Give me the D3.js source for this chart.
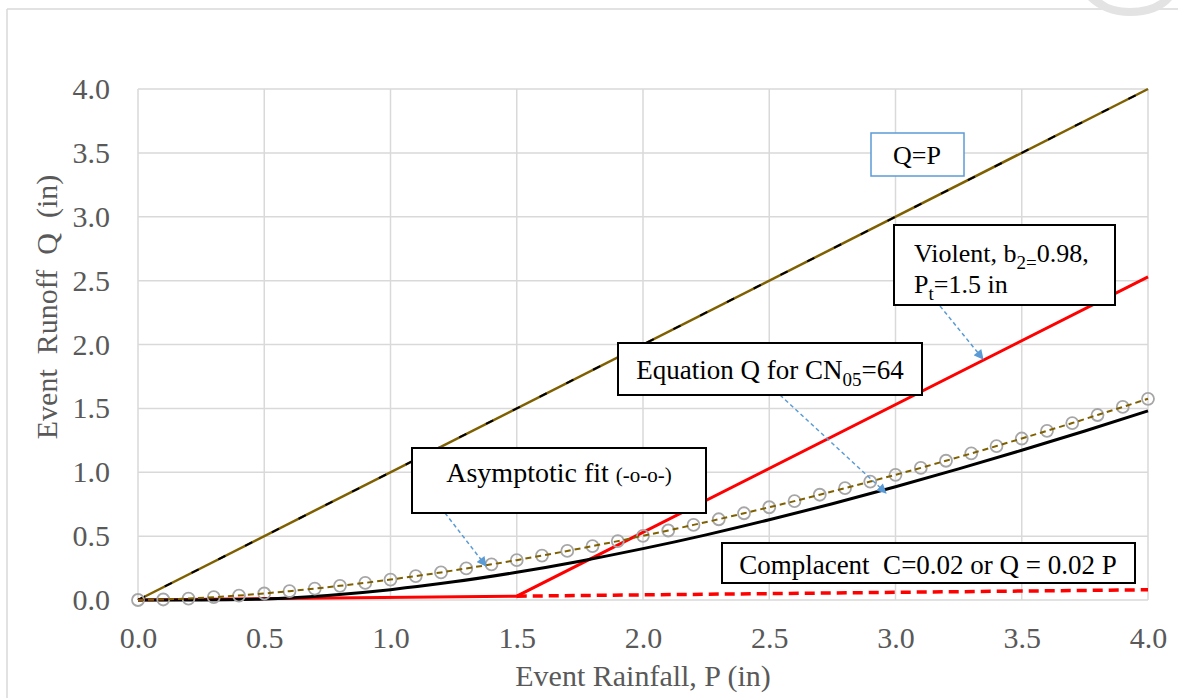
<!DOCTYPE html>
<html>
<head>
  <meta charset="utf-8">
  <script src="https://cdn.jsdelivr.net/npm/d3@7/dist/d3.min.js"></script>
  <style>
    body { margin: 0; background: #fff; }
    text { font-family: "Liberation Serif", "Times New Roman", serif; }
  </style>
</head>
<body>
  <svg width="1178" height="698" id="mainsvg"></svg>
  <script>
    // ---- data ----
    const ticks = [0, 0.5, 1.0, 1.5, 2.0, 2.5, 3.0, 3.5, 4.0];

    // Q = P reference line
    const lineP = [0, 4];
    const lineQ = [0, 4];

    // Equation Q for CN05 = 64 (black)
    const eqP = [0, 0.25, 0.5, 0.75, 1.0, 1.25, 1.5, 1.75, 2.0, 2.25, 2.5, 2.75, 3.0, 3.25, 3.5, 3.75, 4.0];
    const eqQ = [0, 0, 0.008, 0.036, 0.081, 0.142, 0.217, 0.304, 0.402, 0.510, 0.628, 0.753, 0.886, 1.026, 1.172, 1.323, 1.480];

    // Asymptotic fit (-o-o-)
    const fitP = [0, 0.1, 0.2, 0.3, 0.4, 0.5, 0.6, 0.7, 0.8, 0.9, 1.0, 1.1, 1.2, 1.3, 1.4, 1.5, 1.6, 1.7, 1.8, 1.9, 2.0,
                  2.1, 2.2, 2.3, 2.4, 2.5, 2.6, 2.7, 2.8, 2.9, 3.0, 3.1, 3.2, 3.3, 3.4, 3.5, 3.6, 3.7, 3.8, 3.9, 4.0];
    const fitQ = [0, 0.004, 0.011, 0.022, 0.035, 0.051, 0.069, 0.089, 0.111, 0.134, 0.160, 0.187, 0.216, 0.247, 0.279,
                  0.312, 0.348, 0.384, 0.422, 0.461, 0.502, 0.544, 0.588, 0.632, 0.679, 0.726, 0.774, 0.824, 0.875,
                  0.927, 0.980, 1.034, 1.090, 1.147, 1.205, 1.264, 1.324, 1.385, 1.448, 1.511, 1.575];

    // Violent (red solid) and Complacent (red dashed)
    const violentP = [0, 1.5, 4.0];
    const violentQ = [0, 0.03, 2.53];
    const compP = [1.5, 4.0];
    const compQ = [0.03, 0.08];

    const svg = d3.select('svg');
    const width = +svg.attr('width');
    const height = +svg.attr('height');
    const margin = {top: 89, right: 30, bottom: 98, left: 138};
    const innerWidth = width - margin.left - margin.right;
    const innerHeight = height - margin.top - margin.bottom;

    const x = d3.scaleLinear().domain([0, 4]).range([0, innerWidth]);
    const y = d3.scaleLinear().domain([0, 4]).range([innerHeight, 0]);

    // outer chart frame (left and top edges only are visible)
    svg.append('line').attr('x1', 7).attr('y1', 9).attr('x2', 7).attr('y2', height)
      .attr('stroke', '#d9d9d9').attr('stroke-width', 1.5);
    svg.append('line').attr('x1', 7).attr('y1', 9).attr('x2', width).attr('y2', 9)
      .attr('stroke', '#d9d9d9').attr('stroke-width', 1.5);
    // partial grey shape in the top-right corner
    svg.append('path').attr('d', 'M1088,0 Q1105,16 1130,16 Q1158,16 1172,0 L1160,0 Q1148,8 1130,8 Q1112,8 1102,0 Z')
      .attr('fill', '#e3e3e3');

    const g = svg.append('g').attr('transform', `translate(${margin.left},${margin.top})`);

    // grid
    g.append('g').selectAll('line').data(ticks).join('line')
      .attr('x1', d => x(d)).attr('x2', d => x(d)).attr('y1', 0).attr('y2', innerHeight)
      .attr('stroke', '#d9d9d9').attr('stroke-width', 1.5);
    g.append('g').selectAll('line').data(ticks).join('line')
      .attr('x1', 0).attr('x2', innerWidth).attr('y1', d => y(d)).attr('y2', d => y(d))
      .attr('stroke', '#d9d9d9').attr('stroke-width', 1.5);

    // axes (labels only)
    const xAxis = g.append('g').attr('transform', `translate(0,${innerHeight})`)
      .call(d3.axisBottom(x).tickValues(ticks).tickFormat(d3.format('.1f')).tickSize(0).tickPadding(27));
    const yAxis = g.append('g')
      .call(d3.axisLeft(y).tickValues(ticks).tickFormat(d3.format('.1f')).tickSize(0).tickPadding(28));
    [xAxis, yAxis].forEach(a => {
      a.select('.domain').remove();
      a.attr('font-size', null).attr('font-family', null);
      a.selectAll('text').attr('fill', '#595959').attr('font-size', 30);
    });

    svg.append('text').attr('x', 643).attr('y', 686)
      .attr('text-anchor', 'middle').attr('font-size', 30).attr('fill', '#595959')
      .text('Event Rainfall, P (in)');
    svg.append('text').attr('transform', 'translate(57,307) rotate(-90)')
      .attr('text-anchor', 'middle').attr('font-size', 30).attr('fill', '#595959')
      .attr('xml:space', 'preserve')
      .text('Event  Runoff  Q  (in)');

    const line = d3.line().x(d => x(d[0])).y(d => y(d[1]));
    const zip = (a, b) => a.map((v, i) => [v, b[i]]);

    // Q = P: gold line with black dashes
    g.append('path').datum(zip(lineP, lineQ)).attr('d', line)
      .attr('fill', 'none').attr('stroke', '#7f6000').attr('stroke-width', 2.5);
    g.append('path').datum(zip(lineP, lineQ)).attr('d', line)
      .attr('fill', 'none').attr('stroke', '#000').attr('stroke-width', 2)
      .attr('stroke-dasharray', '8 22');

    // violent red
    g.append('path').datum(zip(violentP, violentQ)).attr('d', line)
      .attr('fill', 'none').attr('stroke', '#ff0000').attr('stroke-width', 3);
    // complacent red dashed
    g.append('path').datum(zip(compP, compQ)).attr('d', line)
      .attr('fill', 'none').attr('stroke', '#ff0000').attr('stroke-width', 3.5)
      .attr('stroke-dasharray', '10 6');

    // equation curve black
    const smooth = d3.line().x(d => x(d[0])).y(d => y(d[1])).curve(d3.curveMonotoneX);
    g.append('path').datum(zip(eqP, eqQ)).attr('d', smooth)
      .attr('fill', 'none').attr('stroke', '#000').attr('stroke-width', 3);

    // asymptotic fit: markers, then dashed line on top
    const fit = zip(fitP, fitQ);
    g.append('g').selectAll('circle').data(fit).join('circle')
      .attr('cx', d => x(d[0])).attr('cy', d => y(d[1])).attr('r', 6)
      .attr('fill', 'none').attr('stroke', '#a6a6a6').attr('stroke-width', 1.8);
    g.append('path').datum(fit).attr('d', line)
      .attr('fill', 'none').attr('stroke', '#7f6000').attr('stroke-width', 2)
      .attr('stroke-dasharray', '6 4');

    // ---- annotations ----
    const defs = svg.append('defs');
    defs.append('marker').attr('id', 'arrow').attr('viewBox', '0 0 10 10')
      .attr('refX', 9).attr('refY', 5).attr('markerWidth', 7).attr('markerHeight', 6.5)
      .attr('markerUnits', 'strokeWidth').attr('orient', 'auto')
      .append('path').attr('d', 'M0,0 L10,5 L0,10 Z').attr('fill', '#5b9bd5');

    const arrows = [
      [445, 513, 486, 566],
      [780, 395, 886, 493],
      [940, 306, 983, 359]
    ];
    svg.append('g').selectAll('line').data(arrows).join('line')
      .attr('x1', d => d[0]).attr('y1', d => d[1]).attr('x2', d => d[2]).attr('y2', d => d[3])
      .attr('stroke', '#5b9bd5').attr('stroke-width', 1.5).attr('stroke-dasharray', '4 3')
      .attr('marker-end', 'url(#arrow)');

    function box(x0, y0, w, h, stroke, sw) {
      svg.append('rect').attr('x', x0).attr('y', y0).attr('width', w).attr('height', h)
        .attr('fill', '#fff').attr('stroke', stroke).attr('stroke-width', sw);
    }

    // Q=P
    box(871, 133, 93, 43, '#5b9bd5', 1.5);
    svg.append('text').attr('x', 917).attr('y', 164).attr('text-anchor', 'middle')
      .attr('font-size', 26).text('Q=P');

    // Violent
    box(894, 225, 221, 80, '#000', 2);
    const t1 = svg.append('text').attr('x', 914).attr('y', 262).attr('font-size', 26);
    t1.append('tspan').text('Violent, b');
    t1.append('tspan').attr('font-size', 19).attr('dy', 7).text('2=');
    t1.append('tspan').attr('dy', -7).text('0.98,');
    const t2 = svg.append('text').attr('x', 914).attr('y', 293).attr('font-size', 26);
    t2.append('tspan').text('P');
    t2.append('tspan').attr('font-size', 19).attr('dy', 7).text('t');
    t2.append('tspan').attr('dy', -7).text('=1.5 in');

    // Equation
    box(618, 343, 304, 52, '#000', 2);
    const t3 = svg.append('text').attr('x', 770).attr('y', 379).attr('text-anchor', 'middle').attr('font-size', 27);
    t3.append('tspan').text('Equation Q for CN');
    t3.append('tspan').attr('font-size', 19).attr('dy', 7).text('05');
    t3.append('tspan').attr('dy', -7).text('=64');

    // Asymptotic
    box(412, 448, 294, 65, '#000', 2);
    const t4 = svg.append('text').attr('x', 559).attr('y', 482).attr('text-anchor', 'middle').attr('font-size', 28);
    t4.append('tspan').text('Asymptotic fit ');
    t4.append('tspan').attr('font-size', 21).text('(-o-o-)');

    // Complacent
    box(722, 543, 413, 40, '#000', 2);
    svg.append('text').attr('x', 928).attr('y', 574).attr('text-anchor', 'middle')
      .attr('font-size', 27).attr('xml:space', 'preserve')
      .text('Complacent  C=0.02 or Q = 0.02 P');
  </script>
</body>
</html>
